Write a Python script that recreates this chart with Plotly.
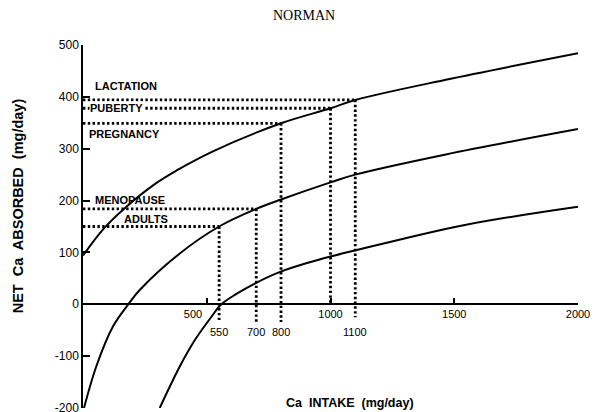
import plotly.graph_objects as go

# Net calcium absorbed vs. calcium intake, three absorption curves
c1_x = [0, 82, 163, 297, 378, 525, 800, 1000, 1100, 1466, 2000]
c1_y = [94, 145, 183, 234, 258, 295, 349, 378, 394, 433, 484]

c2_x = [4, 55, 122, 183, 230, 391, 550, 700, 800, 1000, 1100, 1466, 2000]
c2_y = [-200, -118, -42, 0, 28, 98, 150, 184, 202, 235, 250, 289, 338]

c3_x = [310, 391, 452, 519, 559, 620, 694, 794, 909, 1000, 1110, 1533, 2000]
c3_y = [-200, -120, -69, -24, 0, 20, 40, 62, 80, 92, 105, 152, 188]

# Requirement of each group: intake (mg/day) -> net absorption (mg/day)
groups = ["ADULTS", "MENOPAUSE", "PREGNANCY", "PUBERTY", "LACTATION"]
intake = [550, 700, 800, 1000, 1100]
absorbed = [150, 184, 349, 378, 394]

x_ticks = [500, 1000, 1500, 2000]
y_ticks = [-200, -100, 0, 100, 200, 300, 400, 500]

FONT = "Liberation Sans, Arial, sans-serif"
BLACK = "#000000"

# how far each vertical guide drops below the axis
drop = {550: -34, 700: -34, 800: -34, 1000: 0, 1100: -25}

fig = go.Figure()

for cx, cy in [(c1_x, c1_y), (c2_x, c2_y), (c3_x, c3_y)]:
    fig.add_trace(go.Scatter(x=cx, y=cy, mode="lines",
                             line=dict(color=BLACK, width=2, shape="spline", smoothing=1.0),
                             hoverinfo="skip"))

gx, gy = [], []
for xi, yi in zip(intake, absorbed):
    gx += [0, xi, None, xi, xi, None]
    gy += [yi, yi, None, yi, drop[xi], None]
fig.add_trace(go.Scatter(x=gx, y=gy, mode="lines",
                         line=dict(color=BLACK, width=2.8, dash="2.4px,2.4px"),
                         hoverinfo="skip"))

annotations = []

# group names beside their guide lines
label_pos = {
    "LACTATION": (40, 420, None),
    "PUBERTY": (26, 378, "white"),
    "PREGNANCY": (16, 328, None),
    "MENOPAUSE": (40, 202, None),
    "ADULTS": (157, 164, None),
}
for g in groups:
    lx, ly, bg = label_pos[g]
    a = dict(x=lx, y=ly, xref="x", yref="y", text=g, showarrow=False,
             xanchor="left", yanchor="middle",
             font=dict(family=FONT, size=11, color=BLACK, weight="bold"))
    if bg:
        a.update(bgcolor=bg, borderpad=0)
    annotations.append(a)

# intake values that sit between the regular ticks
for xi in intake:
    if xi not in x_ticks:
        annotations.append(dict(x=xi, y=-53, xref="x", yref="y", text=str(xi),
                                showarrow=False, xanchor="center", yanchor="middle",
                                font=dict(family=FONT, size=11, color=BLACK)))

annotations += [
    dict(x=0.539, y=0.014, xref="paper", yref="paper", text="Ca  INTAKE  (mg/day)",
         showarrow=False, xanchor="center", yanchor="middle",
         font=dict(family=FONT, size=12.5, color=BLACK, weight="bold")),
    dict(x=-0.131, y=0.556, xref="paper", yref="paper",
         text="NET  Ca  ABSORBED  (mg/day)",
         showarrow=False, textangle=-90, xanchor="center", yanchor="middle",
         font=dict(family=FONT, size=14.5, color=BLACK, weight="bold")),
    dict(x=0.446, y=1.08, xref="paper", yref="paper", text="NORMAN",
         showarrow=False, xanchor="center", yanchor="middle",
         font=dict(family="Liberation Serif, Times New Roman, serif", size=14, color=BLACK)),
]

x_text = [str(v) for v in x_ticks]
x_text[0] = "500" + "\u00a0" * 9
y_text = [str(v) for v in y_ticks]

fig.update_layout(
    width=600, height=412,
    margin=dict(l=83, r=22, t=45, b=4),
    paper_bgcolor="white", plot_bgcolor="white",
    showlegend=False,
    annotations=annotations,
    xaxis=dict(range=[0, 2000], anchor="free", position=2 / 7,
               showline=True, linecolor=BLACK, linewidth=1.5,
               ticks="inside", ticklen=6, tickwidth=1.5, tickcolor=BLACK,
               tickvals=x_ticks, ticktext=x_text,
               tickfont=dict(family=FONT, size=11, color=BLACK),
               showgrid=False, zeroline=False, automargin=False),
    yaxis=dict(range=[-200, 500], showline=True, linecolor=BLACK, linewidth=1.5,
               ticks="inside", ticklen=7, tickwidth=1.5, tickcolor=BLACK,
               tickvals=y_ticks, ticktext=y_text, ticklabeloverflow="allow",
               tickfont=dict(family=FONT, size=12, color=BLACK),
               showgrid=False, zeroline=False, automargin=False),
)

fig.write_html("out.html")
